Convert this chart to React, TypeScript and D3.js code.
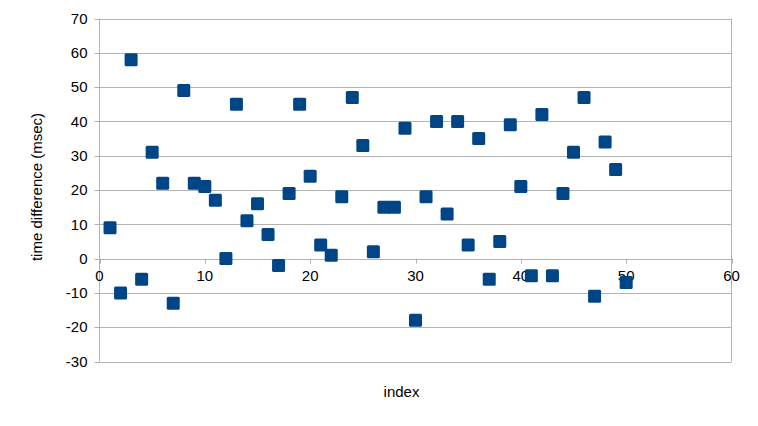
import React from "react";
import * as d3 from "d3";

const indices = Array.from({ length: 50 }, (_, i) => i + 1);
const timeDiff = [
  9, -10, 58, -6, 31, 22, -13, 49, 22, 21,
  17, 0, 45, 11, 16, 7, -2, 19, 45, 24,
  4, 1, 18, 47, 33, 2, 15, 15, 38, -18,
  18, 40, 13, 40, 4, 35, -6, 5, 39, 21,
  -5, 42, -5, 19, 31, 47, -11, 34, 26, -7,
];
const xTicks = [0, 10, 20, 30, 40, 50, 60];
const yTicks = [-30, -20, -10, 0, 10, 20, 30, 40, 50, 60, 70];

export default function App() {
  const W = 758, H = 426;
  const left = 99.5, right = 731.5, top = 18.5, bottom = 361.5;
  const x = d3.scaleLinear().domain([0, 60]).range([left, right]);
  const y = d3.scaleLinear().domain([-30, 70]).range([bottom, top]);
  const grid = "#b3b3b3";
  const font = "'Liberation Sans', Arial, sans-serif";
  const ms = 13;
  return (
    <svg width={W} height={H} style={{ position: "absolute", left: 0, top: 0 }} fontFamily={font}>
      <rect width={W} height={H} fill="#fff" />
      {yTicks.map((t) => (
        <g key={t}>
          <line x1={left - 5} x2={right} y1={Math.round(y(t)) + 0.5} y2={Math.round(y(t)) + 0.5} stroke={grid} strokeWidth={1} />
          <text x={left - 12} y={y(t)} dy="0.35em" textAnchor="end" fontSize={15} fill="#000">{t}</text>
        </g>
      ))}
      <line x1={left} x2={left} y1={top} y2={bottom} stroke={grid} />
      <line x1={right} x2={right} y1={top} y2={bottom} stroke={grid} />
      {xTicks.map((t) => (
        <g key={t}>
          <line x1={Math.round(x(t)) + 0.5} x2={Math.round(x(t)) + 0.5} y1={y(0)} y2={y(0) + 5} stroke={grid} />
          <text x={x(t)} y={y(0) + 12} dy="0.71em" textAnchor="middle" fontSize={15} fill="#000">{t}</text>
        </g>
      ))}
      {indices.map((i, k) => (
        <rect key={i} x={x(i) - ms / 2} y={y(timeDiff[k]) - ms / 2} width={ms} height={ms} rx={1.5} fill="#004586" />
      ))}
      <text x={(left + right) / 2 - 14} y={397} textAnchor="middle" fontSize={15} fill="#000">index</text>
      <text transform={`translate(42, ${(top + bottom) / 2 - 3}) rotate(-90)`} textAnchor="middle" fontSize={15} fill="#000">time difference (msec)</text>
    </svg>
  );
}
